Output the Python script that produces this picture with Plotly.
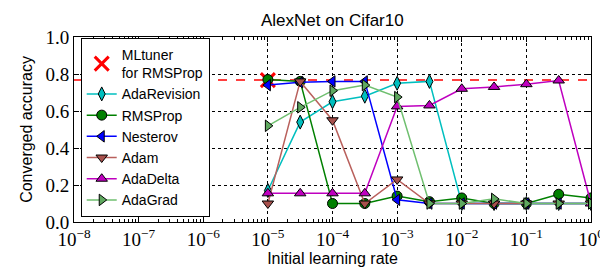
import plotly.graph_objects as go

# Learning rates (x values)
learning_rates = [1e-5, 3.162e-5, 1e-4, 3.162e-4, 1e-3, 3.162e-3, 1e-2, 3.162e-2, 1e-1, 3.162e-1, 1.0]

# Converged accuracy per optimizer
ada_revision = [0.17, 0.54, 0.65, 0.68, 0.75, 0.76, 0.10, 0.10, 0.10, 0.10, 0.10]
rmsprop      = [0.77, 0.76, 0.10, 0.10, 0.14, 0.11, 0.13, 0.10, 0.10, 0.15, 0.13]
nesterov     = [0.74, 0.755, 0.76, 0.76, 0.12, 0.10, 0.10, 0.10, 0.10, 0.10, 0.10]
adam         = [0.10, 0.76, 0.55, 0.10, 0.23, 0.10, 0.10, 0.10, 0.10, 0.10, 0.10]
ada_delta    = [0.155, 0.155, 0.155, 0.155, 0.625, 0.63, 0.72, 0.73, 0.745, 0.765, 0.10]
ada_grad     = [0.52, 0.62, 0.71, 0.74, 0.675, 0.10, 0.10, 0.125, 0.10, 0.10, 0.10]

# MLtuner result for RMSProp
mltuner_lr = [1e-5]
mltuner_acc = [0.767]

# Axis tick labels
x_tick_vals = [1e-8, 1e-7, 1e-6, 1e-5, 1e-4, 1e-3, 1e-2, 1e-1, 1.0]
x_tick_text = ["10<sup>−8</sup>", "10<sup>−7</sup>", "10<sup>−6</sup>", "10<sup>−5</sup>",
               "10<sup>−4</sup>", "10<sup>−3</sup>", "10<sup>−2</sup>", "10<sup>−1</sup>",
               "10<sup>0</sup>"]
y_tick_vals = [0.0, 0.2, 0.4, 0.6, 0.8, 1.0]
y_tick_text = ["0.0", "0.2", "0.4", "0.6", "0.8", "1.0"]

series = [
    ("AdaRevision", ada_revision, "#00bfbf", "#00bfbf", "diamond-tall"),
    ("RMSProp", rmsprop, "#008000", "#008000", "circle"),
    ("Nesterov", nesterov, "#0000ff", "#0000ff", "triangle-left"),
    ("Adam", adam, "#b9605c", "#a8504c", "triangle-down"),
    ("AdaDelta", ada_delta, "#bf00bf", "#bf00bf", "triangle-up"),
    ("AdaGrad", ada_grad, "#6fbf6f", "#5fa85f", "triangle-right"),
]

fig = go.Figure()

# dashed reference line for MLtuner
fig.add_trace(go.Scatter(
    x=[x_tick_vals[0], x_tick_vals[-1]], y=[mltuner_acc[0], mltuner_acc[0]],
    mode="lines", line=dict(color="#ff0000", width=1.5, dash="dash"),
    showlegend=False, hoverinfo="skip"))

fig.add_trace(go.Scatter(
    x=mltuner_lr, y=mltuner_acc, mode="markers", name="MLtuner<br>for RMSProp",
    marker=dict(symbol="x-thin", size=14, color="#ff0000",
                line=dict(color="#ff0000", width=3))))

for name, vals, lcol, mcol, sym in series:
    fig.add_trace(go.Scatter(
        x=learning_rates, y=vals, mode="lines+markers", name=name,
        line=dict(color=lcol, width=1.5),
        marker=dict(symbol=sym, size=10, color=mcol,
                    line=dict(color="black", width=1))))

serif = "Liberation Serif"
sans = "Liberation Sans"

fig.add_annotation(text="AlexNet on Cifar10", xref="paper", yref="paper", x=0.5, y=1,
                   xanchor="center", yanchor="middle", yshift=17, showarrow=False,
                   font=dict(family=sans, size=17, color="black"))

fig.update_layout(
    width=608, height=269,
    margin=dict(l=66, r=14, t=29, b=50),
    paper_bgcolor="white", plot_bgcolor="white",
    font=dict(family=sans, color="black"),
    legend=dict(x=0.013, y=0.995, xanchor="left", yanchor="top",
                bgcolor="white", bordercolor="black", borderwidth=1,
                font=dict(family=sans, size=14, color="black"),
                tracegroupgap=0, itemwidth=30),
    xaxis=dict(type="log", range=[-8, 0], tickmode="array",
               tickvals=x_tick_vals, ticktext=x_tick_text,
               tickfont=dict(family=serif, size=19, color="black"),
               ticks="inside", ticklen=5, tickcolor="black",
               showline=True, linecolor="black", linewidth=1, mirror="allticks",
               showgrid=True, gridcolor="black", griddash="dot", gridwidth=1,
               minor=dict(ticks="inside", ticklen=3, tickcolor="black", dtick="D1", showgrid=False),
               zeroline=False,
               title=dict(text="Initial learning rate", font=dict(family=sans, size=16, color="black"),
                          standoff=4)),
    yaxis=dict(range=[0, 1], tickmode="array", tickvals=y_tick_vals, ticktext=y_tick_text,
               tickfont=dict(family=serif, size=19, color="black"),
               ticks="inside", ticklen=5, tickcolor="black",
               showline=True, linecolor="black", linewidth=1, mirror="allticks",
               showgrid=True, gridcolor="black", griddash="dot", gridwidth=1,
               zeroline=False,
               title=dict(text="Converged accuracy", font=dict(family=sans, size=16, color="black"),
                          standoff=8)),
)

fig.write_html("out.html")
